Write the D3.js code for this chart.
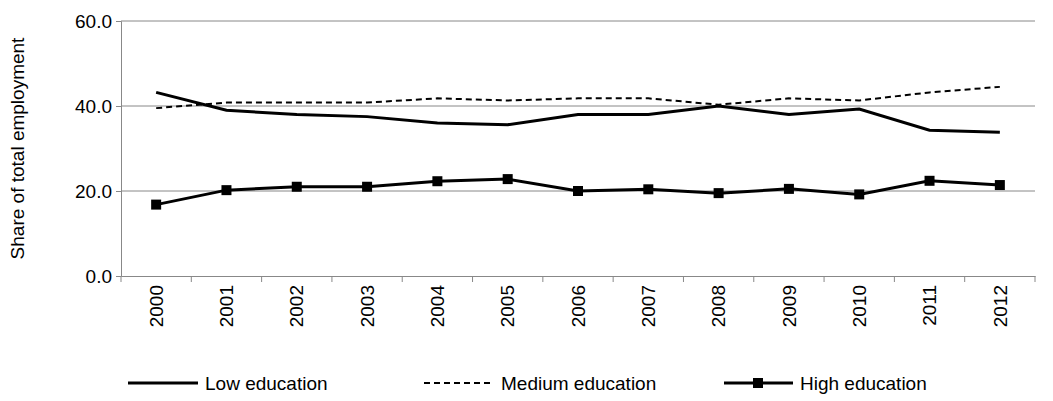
<!DOCTYPE html>
<html><head><meta charset="utf-8">
<script src="https://cdn.jsdelivr.net/npm/d3@7"></script>
<style>body{margin:0;background:#fff}text{font-family:"Liberation Sans",Arial,sans-serif}</style>
</head><body><div id="chart"></div>
<script>
const years = ["2000","2001","2002","2003","2004","2005","2006","2007","2008","2009","2010","2011","2012"]
const lowEdu = [43.2, 39.0, 38.0, 37.5, 36.0, 35.6, 38.0, 38.0, 40.0, 38.0, 39.3, 34.3, 33.8]
const medEdu = [39.5, 40.8, 40.8, 40.8, 41.8, 41.3, 41.8, 41.8, 40.3, 41.8, 41.3, 43.2, 44.5]
const highEdu = [16.8, 20.2, 21.0, 21.0, 22.3, 22.8, 20.0, 20.4, 19.5, 20.5, 19.2, 22.4, 21.4]
const yTicks = [0, 20, 40, 60]

const width = 1053, height = 401
const plotL = 121, plotR = 1035, plotT = 21, plotB = 276
const fs = "19px"

const svg = d3.select("#chart").append("svg").attr("width", width).attr("height", height)

const x = d3.scaleBand().domain(years).range([plotL, plotR])
const y = d3.scaleLinear().domain([0, 60]).range([plotB, plotT])

// gridlines
svg.append("g").selectAll("line").data(yTicks.slice(1)).join("line")
  .attr("x1", plotL).attr("x2", plotR)
  .attr("y1", d => y(d)).attr("y2", d => y(d))
  .attr("stroke", "#888").attr("stroke-width", 1)

const yAxis = svg.append("g").attr("transform", `translate(${plotL},0)`)
  .call(d3.axisLeft(y).tickValues(yTicks).tickFormat(d3.format(".1f")).tickSize(5))
yAxis.selectAll("text").style("font-size", fs).attr("fill", "#000").attr("x", -9)
yAxis.selectAll("line,path").attr("stroke", "#888")

const xAxis = svg.append("g").attr("transform", `translate(0,${plotB})`)
  .call(d3.axisBottom(x).tickSize(0))
xAxis.select("path").attr("stroke", "#888")
xAxis.selectAll(".tick line").remove()
svg.append("g").selectAll("line").data(years.concat(["end"])).join("line")
  .attr("x1", (d, i) => plotL + i * x.step()).attr("x2", (d, i) => plotL + i * x.step())
  .attr("y1", plotB).attr("y2", plotB + 6).attr("stroke", "#888")
xAxis.selectAll("text").style("font-size", fs).attr("fill", "#000")
  .attr("transform", "rotate(-90)").attr("text-anchor", "end")
  .attr("x", -9).attr("y", 0).attr("dy", "0.35em")

svg.append("text").attr("transform", `translate(24,${(plotT + plotB) / 2}) rotate(-90)`)
  .attr("text-anchor", "middle").style("font-size", fs).text("Share of total employment")

const cx = d => x(d) + x.bandwidth() / 2
const line = vals => d3.line().x((d, i) => cx(years[i])).y(d => y(d))(vals)

svg.append("path").attr("d", line(lowEdu)).attr("fill", "none").attr("stroke", "#000").attr("stroke-width", 3)
svg.append("path").attr("d", line(medEdu)).attr("fill", "none").attr("stroke", "#000").attr("stroke-width", 2).attr("stroke-dasharray", "6,4")
svg.append("path").attr("d", line(highEdu)).attr("fill", "none").attr("stroke", "#000").attr("stroke-width", 3)
svg.append("g").selectAll("rect").data(highEdu).join("rect")
  .attr("x", (d, i) => cx(years[i]) - 5).attr("y", d => y(d) - 5)
  .attr("width", 10).attr("height", 10).attr("fill", "#000")

// legend
const lg = svg.append("g").attr("transform", "translate(0,383)")
lg.append("line").attr("x1", 128).attr("x2", 198).attr("stroke", "#000").attr("stroke-width", 3)
lg.append("text").attr("x", 205).attr("dy", "0.35em").style("font-size", fs).text("Low education")
lg.append("line").attr("x1", 424).attr("x2", 494).attr("stroke", "#000").attr("stroke-width", 2).attr("stroke-dasharray", "6,4")
lg.append("text").attr("x", 501).attr("dy", "0.35em").style("font-size", fs).text("Medium education")
lg.append("line").attr("x1", 724).attr("x2", 793).attr("stroke", "#000").attr("stroke-width", 3)
lg.append("rect").attr("x", 753).attr("y", -5).attr("width", 10).attr("height", 10)
lg.append("text").attr("x", 800).attr("dy", "0.35em").style("font-size", fs).text("High education")
</script></body></html>
